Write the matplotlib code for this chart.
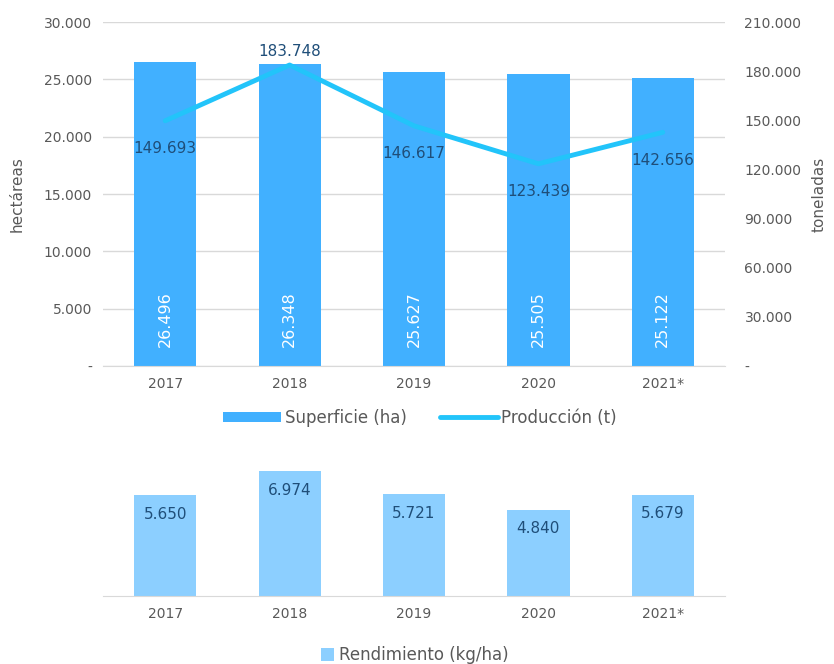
import matplotlib.pyplot as plt
from matplotlib.ticker import FuncFormatter

years = ["2017", "2018", "2019", "2020", "2021*"]
superficie = [26496, 26348, 25627, 25505, 25122]
produccion = [149693, 183748, 146617, 123439, 142656]
rendimiento = [5650, 6974, 5721, 4840, 5679]
# label above (+) or below (-) the line point
prod_label_side = [-1, 1, -1, -1, -1]

GRAY = "#595959"
DARK = "#1F4E79"
BAR_TOP = "#41B0FF"
LINE_C = "#22C4FA"
BAR_BOT = "#8CCFFF"


def es_fmt(v, _pos=None):
    if v == 0:
        return "-"
    return f"{v:,.0f}".replace(",", ".")


plt.rcParams["font.family"] = "DejaVu Sans"
plt.rcParams["font.size"] = 10

fig = plt.figure(figsize=(8.34, 6.64), dpi=100)

# --- top chart: superficie + produccion ---
ax = fig.add_axes([103 / 834, 1 - 366 / 664, 622 / 834, 344 / 664])
x = list(range(len(years)))
bars = ax.bar(x, superficie, width=0.5, color=BAR_TOP, label="Superficie (ha)", zorder=2)
ax.set_xlim(-0.5, len(years) - 0.5)
ax.set_ylim(0, 30000)
ax.set_yticks(range(0, 30001, 5000))
ax.yaxis.set_major_formatter(FuncFormatter(es_fmt))
ax.set_xticks(x)
ax.set_xticklabels(years)
ax.grid(axis="y", color="#D9D9D9", linewidth=1, zorder=0)
ax.set_axisbelow(True)
for s in ["top", "right", "left"]:
    ax.spines[s].set_visible(False)
ax.spines["bottom"].set_color("#D9D9D9")
ax.tick_params(length=0, colors=GRAY, labelsize=10, pad=8)
ax.set_ylabel("hectáreas", color=GRAY, fontsize=11, labelpad=14)

for xi, v in zip(x, superficie):
    ax.annotate(es_fmt(v), (xi, 0), xytext=(0, 14), textcoords="offset points",
                rotation=90, ha="center", va="bottom", color="white", fontsize=11.5)

ax2 = ax.twinx()
line, = ax2.plot(x, produccion, color=LINE_C, linewidth=3.5, solid_capstyle="round",
                 label="Producción (t)", zorder=3)
ax2.set_ylim(0, 210000)
ax2.set_yticks(range(0, 210001, 30000))
ax2.yaxis.set_major_formatter(FuncFormatter(es_fmt))
for s in ax2.spines.values():
    s.set_visible(False)
ax2.tick_params(length=0, colors=GRAY, labelsize=10, pad=14)
ax2.set_ylabel("toneladas", color=GRAY, fontsize=11, labelpad=7)

for xi, v, side in zip(x, produccion, prod_label_side):
    off = 4 if side > 0 else -20
    ax2.annotate(es_fmt(v), (xi, v), xytext=(0, off), textcoords="offset points",
                 ha="center", va="center" if side < 0 else "bottom", color=DARK, fontsize=11)

fig.legend([bars, line], ["Superficie (ha)", "Producción (t)"], loc="center",
           bbox_to_anchor=(420 / 834, 1 - 418 / 664), ncol=2, frameon=False,
           fontsize=12, labelcolor=GRAY, handlelength=3.5, handleheight=0.6,
           columnspacing=2.0, handletextpad=0.2)

# --- bottom chart: rendimiento ---
axb = fig.add_axes([103 / 834, 1 - 596 / 664, 622 / 834, 134 / 664])
bb = axb.bar(x, rendimiento, width=0.5, color=BAR_BOT, zorder=2)
axb.set_xlim(-0.5, len(years) - 0.5)
axb.set_ylim(0, 7500)
axb.set_yticks([])
axb.set_xticks(x)
axb.set_xticklabels(years)
for s in ["top", "right", "left"]:
    axb.spines[s].set_visible(False)
axb.spines["bottom"].set_color("#D9D9D9")
axb.tick_params(length=0, colors=GRAY, labelsize=10, pad=8)
for xi, v in zip(x, rendimiento):
    axb.annotate(es_fmt(v), (xi, v), xytext=(0, -14), textcoords="offset points",
                 ha="center", va="center", color=DARK, fontsize=11)

fig.legend([bb], ["Rendimiento (kg/ha)"], loc="center",
           bbox_to_anchor=(415 / 834, 1 - 655 / 664), frameon=False,
           fontsize=12, labelcolor=GRAY, handlelength=0.8, handleheight=0.8,
           handletextpad=0.3)

fig.savefig("out.png", dpi=100)
